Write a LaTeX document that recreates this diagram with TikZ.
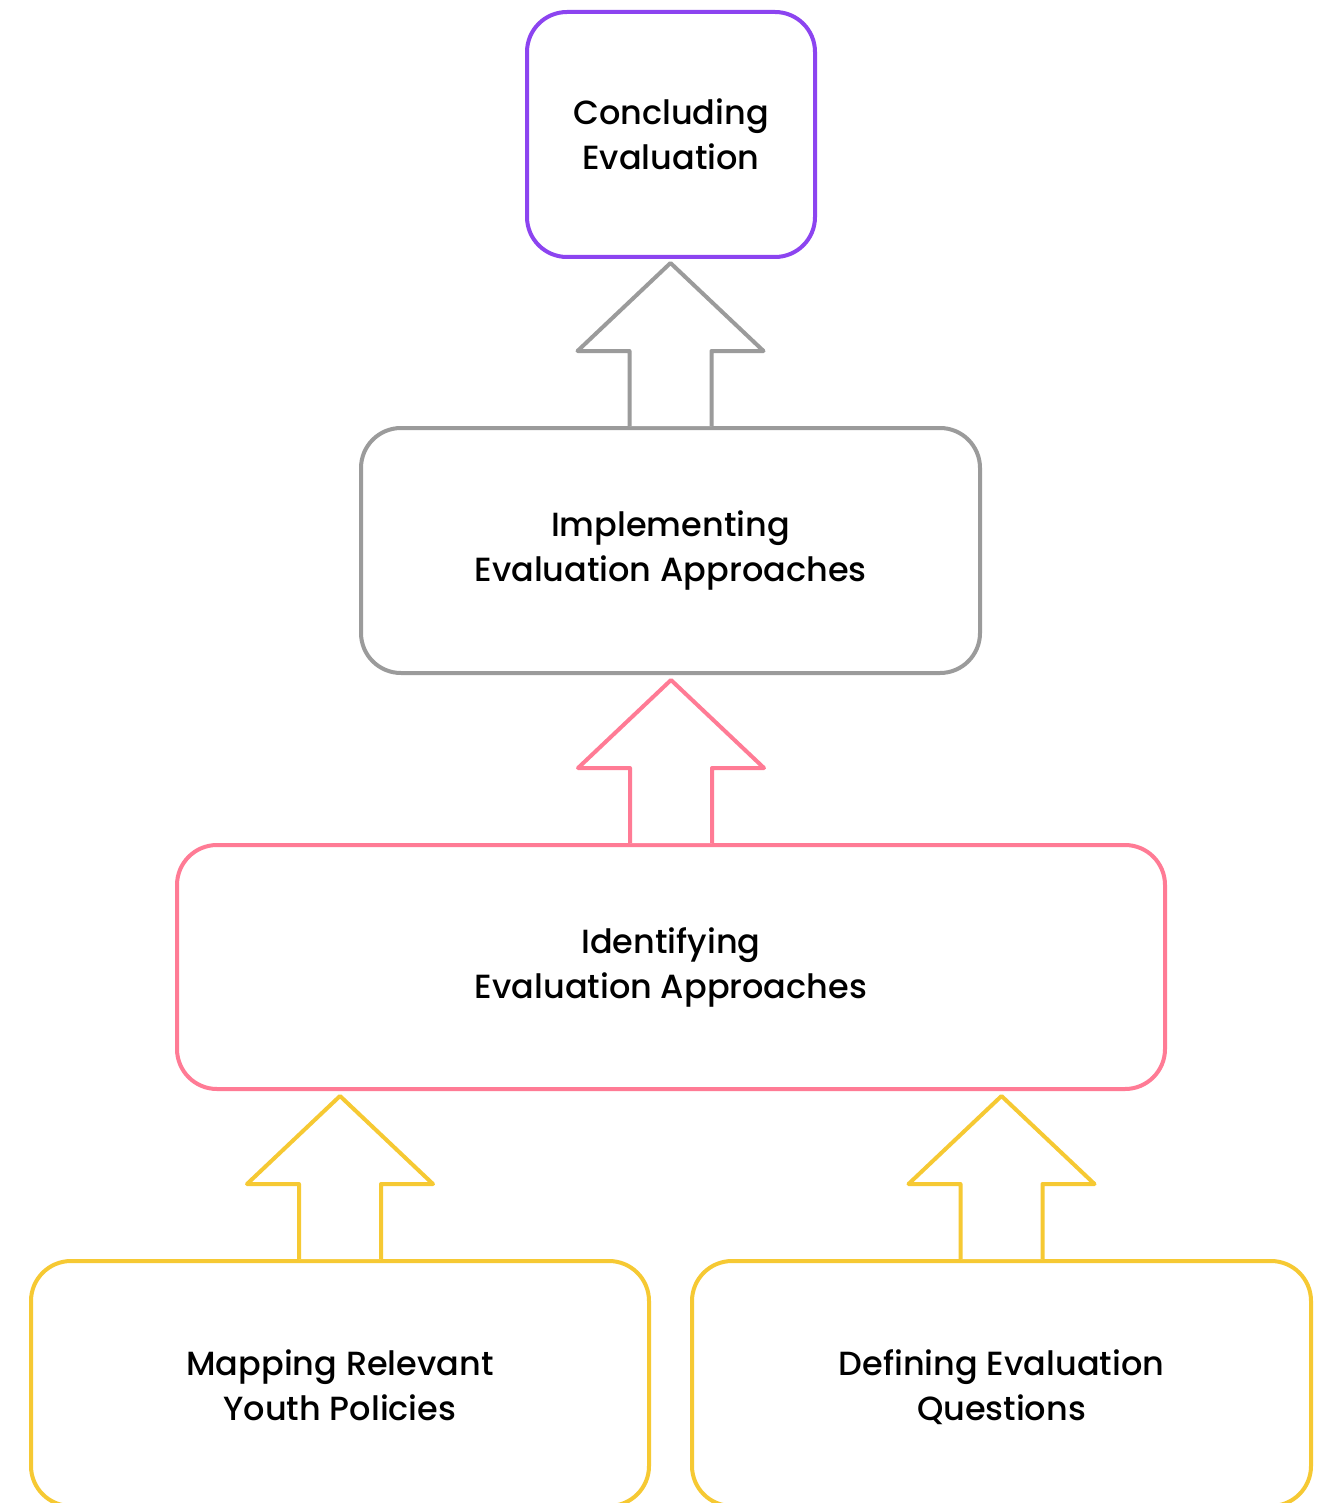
\documentclass[tikz,border=0pt]{standalone}
\usepackage{fontspec}
\setmainfont{Poppins Medium}
\definecolor{cpurple}{HTML}{8C44F0}
\definecolor{cgray}{HTML}{9B9B9B}
\definecolor{cpink}{HTML}{FF7B95}
\definecolor{cyellow}{HTML}{F6C933}
\tikzset{
  box/.style={draw, line width=4pt, rounded corners=40pt, fill=white, align=center,
    inner sep=0pt, font=\fontsize{33.5}{45}\selectfont, text=black},
  boxtext/.style={align=center, inner sep=0pt, font=\fontsize{33.5}{45}\selectfont, text=black},
  blockarrow/.style={line width=4pt, line join=round, fill=white}
}
\newcommand{\blockarr}[2]{% #1 = anchor, #2 = colour
  \draw[blockarrow, draw=#2] ([xshift=-41pt]#1) -- ++(0,75) -- ++(-52,0) -- ++(93,88) -- ++(93,-88) -- ++(-52,0) -- ++(0,-75);
}
\begin{document}
\begin{tikzpicture}[x=1pt,y=1pt]
\useasboundingbox (0,0) rectangle (1325,-1503);
\clip (0,0) rectangle (1325,-1503);
\fill[white] (0,0) rectangle (1325,-1503);
\node[box, draw=cpurple, minimum width=288pt, minimum height=245pt] (concl) at (671,-134.5) {Concluding\\Evaluation};
\node[box, draw=cgray, minimum width=619pt, minimum height=245pt] (impl) at (670.5,-550.5) {Implementing\\Evaluation Approaches};
\node[box, draw=cpink, minimum width=988pt, minimum height=244pt] (ident) at (671,-967) {Identifying\\Evaluation Approaches};
\node[box, draw=cyellow, minimum width=618pt, minimum height=245pt] (map) at (340,-1383.5) {};
\node[boxtext] (maptext) at ([yshift=-6pt]map.center) {Mapping Relevant\\Youth Policies\vphantom{g}};
\node[box, draw=cyellow, minimum width=619pt, minimum height=245pt] (def) at (1001.5,-1383.5) {};
\node[boxtext] (deftext) at ([yshift=-6pt]def.center) {Defining Evaluation\\Questions\vphantom{g}};
\blockarr{impl.north}{cgray}
\blockarr{ident.north}{cpink}
\blockarr{map.north}{cyellow}
\blockarr{def.north}{cyellow}
\end{tikzpicture}
\end{document}
